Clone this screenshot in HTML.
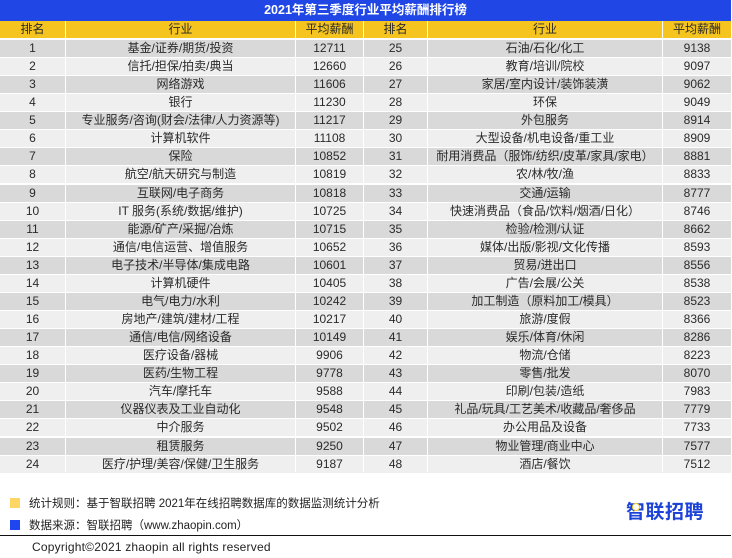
<!DOCTYPE html>
<html><head><meta charset="utf-8">
<style>
html,body{margin:0;padding:0;background:#fff;}
#c{position:relative;width:732px;height:558px;overflow:hidden;background:#fff;font-family:"Liberation Sans","Noto Sans CJK SC",sans-serif;color:#2a2a2a;}
.a{position:absolute;}
.title{left:0;top:0;width:731px;height:21px;background:#2047e6;color:#fff;font-weight:bold;font-size:12.5px;line-height:21px;text-align:center;}
.hdr{left:0;top:21px;width:731px;height:17px;background:#f5c41e;}
.row{left:0;width:731px;height:17px;}
.o{background:#d9d9d9;}
.e{background:#efefef;}
.cell{position:absolute;top:0;height:17px;line-height:17px;font-size:12px;text-align:center;white-space:nowrap;}
.vl{position:absolute;top:21px;height:451px;width:1px;background:#fff;}
.c1{left:0;width:65px;}
.c2{left:66px;width:229px;}
.c3{left:296px;width:67px;}
.c4{left:364px;width:63px;}
.c5{left:428px;width:234px;}
.c6{left:663px;width:68px;}
.leg{font-size:11.5px;color:#222;white-space:nowrap;}
.sq{position:absolute;width:10px;height:10px;}
</style></head><body><div id="c">
<div class="a title">2021年第三季度行业平均薪酬排行榜</div>
<div class="a hdr">
<div class="cell c1">排名</div><div class="cell c2">行业</div><div class="cell c3">平均薪酬</div>
<div class="cell c4">排名</div><div class="cell c5">行业</div><div class="cell c6">平均薪酬</div>
</div>
<div id="rows"></div>
<div class="vl" style="left:65px"></div>
<div class="vl" style="left:295px"></div>
<div class="vl" style="left:363px"></div>
<div class="vl" style="left:427px"></div>
<div class="vl" style="left:662px"></div>

<div class="sq" style="left:10px;top:498px;background:#fdd664;"></div>
<div class="a leg" style="left:29px;top:495px;">统计规则：基于智联招聘 2021年在线招聘数据库的数据监测统计分析</div>
<div class="sq" style="left:10px;top:520px;background:#1f45f0;"></div>
<div class="a leg" style="left:29px;top:517px;">数据来源：智联招聘（www.zhaopin.com）</div>
<div class="a" style="left:0;top:535px;width:731px;height:1px;background:#111;"></div>
<div class="a" style="left:32px;top:540px;font-size:12px;color:#222;white-space:nowrap;letter-spacing:0.2px;">Copyright©2021 zhaopin all rights reserved</div>
<div class="a" style="left:626px;top:501px;font-size:19px;font-weight:bold;color:#1d42d8;letter-spacing:0.5px;white-space:nowrap;line-height:24px;">智联招聘</div>
<div class="a" style="left:632px;top:503px;width:6px;height:6px;border:1.5px solid #f7c91e;border-radius:50%;background:#fff;"></div>
</div>
<script>
var L=[["1","基金/证券/期货/投资","12711"],["2","信托/担保/拍卖/典当","12660"],["3","网络游戏","11606"],["4","银行","11230"],["5","专业服务/咨询(财会/法律/人力资源等)","11217"],["6","计算机软件","11108"],["7","保险","10852"],["8","航空/航天研究与制造","10819"],["9","互联网/电子商务","10818"],["10","IT 服务(系统/数据/维护)","10725"],["11","能源/矿产/采掘/冶炼","10715"],["12","通信/电信运营、增值服务","10652"],["13","电子技术/半导体/集成电路","10601"],["14","计算机硬件","10405"],["15","电气/电力/水利","10242"],["16","房地产/建筑/建材/工程","10217"],["17","通信/电信/网络设备","10149"],["18","医疗设备/器械","9906"],["19","医药/生物工程","9778"],["20","汽车/摩托车","9588"],["21","仪器仪表及工业自动化","9548"],["22","中介服务","9502"],["23","租赁服务","9250"],["24","医疗/护理/美容/保健/卫生服务","9187"]];
var R=[["25","石油/石化/化工","9138"],["26","教育/培训/院校","9097"],["27","家居/室内设计/装饰装潢","9062"],["28","环保","9049"],["29","外包服务","8914"],["30","大型设备/机电设备/重工业","8909"],["31","耐用消费品（服饰/纺织/皮革/家具/家电）","8881"],["32","农/林/牧/渔","8833"],["33","交通/运输","8777"],["34","快速消费品（食品/饮料/烟酒/日化）","8746"],["35","检验/检测/认证","8662"],["36","媒体/出版/影视/文化传播","8593"],["37","贸易/进出口","8556"],["38","广告/会展/公关","8538"],["39","加工制造（原料加工/模具）","8523"],["40","旅游/度假","8366"],["41","娱乐/体育/休闲","8286"],["42","物流/仓储","8223"],["43","零售/批发","8070"],["44","印刷/包装/造纸","7983"],["45","礼品/玩具/工艺美术/收藏品/奢侈品","7779"],["46","办公用品及设备","7733"],["47","物业管理/商业中心","7577"],["48","酒店/餐饮","7512"]];
var h="";
for(var i=0;i<24;i++){
 var t=Math.round(40+18.07*i);
 h+='<div class="a row '+(i%2==0?'o':'e')+'" style="top:'+t+'px">'+
 '<div class="cell c1">'+L[i][0]+'</div><div class="cell c2">'+L[i][1]+'</div><div class="cell c3">'+L[i][2]+'</div>'+
 '<div class="cell c4">'+R[i][0]+'</div><div class="cell c5">'+R[i][1]+'</div><div class="cell c6">'+R[i][2]+'</div></div>';
}
document.getElementById("rows").innerHTML=h;
</script>
</body></html>
